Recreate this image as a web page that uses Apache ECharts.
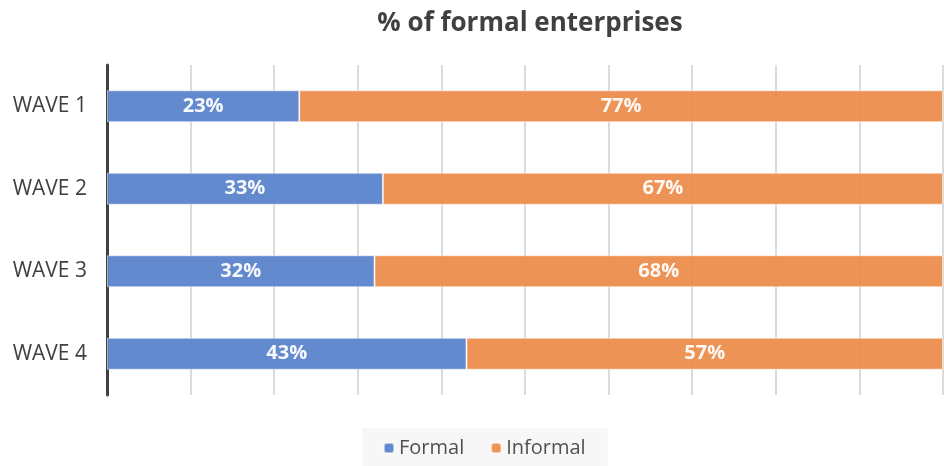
<!DOCTYPE html>
<html>
<head>
    <meta charset="UTF-8">
    <title>% of formal enterprises</title>
    <script src="https://cdn.jsdelivr.net/npm/echarts@6/dist/echarts.min.js"></script>
    <style>
        html, body { margin: 0; padding: 0; background: #fff; }
        #chart { width: 944px; height: 466px; }
    </style>
</head>
<body>
    <div id="chart"></div>
    <script>
        // data
        const waves = ['WAVE 1', 'WAVE 2', 'WAVE 3', 'WAVE 4'];
        const formal = [23, 33, 32, 43];
        const informal = [77, 67, 68, 57];

        const font = '"Open Sans", "Noto Sans", sans-serif';
        const chart = echarts.init(document.getElementById('chart'));

        const labelStyle = {
            show: true,
            position: 'inside',
            color: '#fff',
            fontWeight: 'bold',
            fontSize: 20,
            fontFamily: font,
            formatter: p => p.value + '%'
        };

        chart.setOption({
            animation: false,
            title: {
                text: '% of formal enterprises',
                left: 525,
                textAlign: 'center',
                top: 6,
                textStyle: { fontSize: 26, fontWeight: 'bold', color: '#404040', fontFamily: font }
            },
            legend: {
                bottom: -2,
                left: 362,
                itemWidth: 10,
                itemHeight: 10,
                itemGap: 26,
                padding: [10, 22, 10, 21],
                backgroundColor: '#f7f7f7',
                textStyle: { fontSize: 20, color: '#505050', fontFamily: font },
                data: ['Formal', 'Informal']
            },
            grid: { left: 107, right: 1, top: 65, bottom: 71 },
            xAxis: {
                type: 'value',
                min: 0,
                max: 100,
                interval: 10,
                axisLabel: { show: false },
                axisLine: { show: false },
                axisTick: { show: false },
                splitLine: { show: true, lineStyle: { color: '#cfcfcf', width: 1.5 } }
            },
            yAxis: {
                type: 'category',
                inverse: true,
                data: waves,
                axisLine: { show: true, lineStyle: { color: '#404040', width: 3 } },
                axisTick: { show: false },
                axisLabel: { margin: 20, fontSize: 21, color: '#404040', fontFamily: font }
            },
            series: [
                {
                    name: 'Formal',
                    type: 'bar',
                    stack: 'total',
                    barWidth: 32,
                    data: formal,
                    itemStyle: { color: '#5b84cb', opacity: 0.95, borderColor: 'rgba(255,255,255,0.55)', borderWidth: 1 },
                    label: labelStyle
                },
                {
                    name: 'Informal',
                    type: 'bar',
                    stack: 'total',
                    barWidth: 32,
                    data: informal,
                    itemStyle: { color: '#ec8d4d', opacity: 0.95, borderColor: 'rgba(255,255,255,0.55)', borderWidth: 1 },
                    label: labelStyle
                }
            ]
        });
    </script>
</body>
</html>
